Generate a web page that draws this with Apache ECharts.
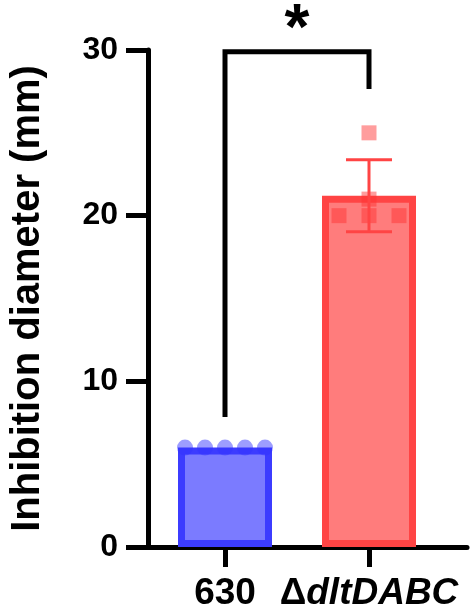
<!DOCTYPE html>
<html>
<head>
<meta charset="utf-8">
<script src="https://cdn.jsdelivr.net/npm/echarts@6/dist/echarts.min.js"></script>
<style>
  html, body { margin: 0; padding: 0; background: #fff; }
  #main { width: 472px; height: 616px; }
</style>
</head>
<body>
<div id="main"></div>
<script>
// data
var categories = ['630', 'ΔdltDABC'];
var means = [6, 21.2];
var sds = [0, 2.17];
var points630 = [6, 6, 6, 6, 6];
var pointsDlt = [25, 21, 20, 20, 20];
var yTicks = [0, 10, 20, 30];
var bracket = [8, 29.9, 27.8];   // left foot, top, right foot
var sigLabel = '*';

// jitter of the replicate dots (px), style only
var jitter630 = [-40, -20, 0, 20, 40];
var jitterDlt = [0, 0, -30, 0, 30];

var font = 'Liberation Sans, Arial, sans-serif';
var fills = ['#7b7bff', '#ff7c7c'];
var borders = ['#3c3cff', '#ff4444'];
var dots = ['rgba(50,50,255,0.6)', 'rgba(255,50,50,0.6)'];

var chart = echarts.init(document.getElementById('main'));

var option = {
  backgroundColor: '#fff',
  animation: false,
  grid: [
    {left: 153, right: 31, top: 50, bottom: 69},   // bars
    {left: 132, right: 5, top: 50, bottom: 69}     // visible axes
  ],
  xAxis: [
    {
      type: 'category', gridIndex: 0, data: categories,
      axisLine: {show: false},
      axisTick: {show: true, alignWithLabel: true, length: 20, lineStyle: {color: '#000', width: 5}},
      axisLabel: {
        margin: 28,
        formatter: function (v) {
          return v === '630' ? '{n|630}' : '{n|Δ}{i|dltDABC}';
        },
        rich: {
          n: {fontFamily: font, fontWeight: 'bold', fontSize: 37, color: '#000'},
          i: {fontFamily: font, fontWeight: 'bold', fontStyle: 'italic', fontSize: 37, color: '#000'}
        }
      }
    },
    {
      type: 'value', gridIndex: 1, min: 0, max: 1,
      axisLine: {show: true, onZero: false, lineStyle: {color: '#000', width: 5}},
      axisTick: {show: false}, axisLabel: {show: false}, splitLine: {show: false}
    }
  ],
  yAxis: [
    {
      type: 'value', gridIndex: 0, min: yTicks[0], max: yTicks[yTicks.length - 1], interval: 10,
      show: false
    },
    {
      type: 'value', gridIndex: 1, min: yTicks[0], max: yTicks[yTicks.length - 1], interval: 10,
      name: 'Inhibition diameter (mm)',
      nameLocation: 'middle', nameRotate: 90, nameGap: 100,
      nameTextStyle: {fontFamily: font, fontWeight: 'bold', fontSize: 40, color: '#000'},
      axisLine: {show: true, lineStyle: {color: '#000', width: 5}},
      axisTick: {show: true, length: 22, lineStyle: {color: '#000', width: 5}},
      axisLabel: {margin: 30, fontFamily: font, fontWeight: 'bold', fontSize: 32, color: '#000'},
      splitLine: {show: false}
    }
  ],
  series: [
    {
      type: 'bar', xAxisIndex: 0, yAxisIndex: 0,
      barWidth: 94,
      data: means.map(function (m, i) {
        return {value: m, itemStyle: {color: fills[i], borderColor: borders[i], borderWidth: 7}};
      }),
      z: 2
    },
    {
      type: 'scatter', xAxisIndex: 0, yAxisIndex: 0,
      symbol: 'circle', symbolSize: 16,
      data: points630.map(function (v, i) {
        return {value: [0, v], symbolOffset: [jitter630[i], 0]};
      }),
      itemStyle: {color: dots[0]},
      z: 3
    },
    {
      type: 'scatter', xAxisIndex: 0, yAxisIndex: 0,
      symbol: 'rect', symbolSize: 15,
      data: pointsDlt.map(function (v, i) {
        return {value: [1, v], symbolOffset: [jitterDlt[i], 0]};
      }),
      itemStyle: {color: dots[1]},
      z: 3
    },
    {
      // SD error bars
      type: 'custom', xAxisIndex: 0, yAxisIndex: 0,
      data: means.map(function (m, i) { return [i, m + sds[i], m - sds[i]]; }),
      renderItem: function (params, api) {
        var i = api.value(0);
        if (sds[i] === 0) return null;
        var hi = api.coord([i, api.value(1)]);
        var lo = api.coord([i, api.value(2)]);
        var w = 23;
        var st = {stroke: borders[i], lineWidth: 3};
        return {
          type: 'group',
          children: [
            {type: 'line', shape: {x1: hi[0], y1: hi[1], x2: lo[0], y2: lo[1]}, style: st},
            {type: 'line', shape: {x1: hi[0] - w, y1: hi[1], x2: hi[0] + w, y2: hi[1]}, style: st},
            {type: 'line', shape: {x1: lo[0] - w, y1: lo[1], x2: lo[0] + w, y2: lo[1]}, style: st}
          ]
        };
      },
      z: 4
    },
    {
      // significance bracket
      type: 'line', xAxisIndex: 0, yAxisIndex: 0,
      data: [[0, bracket[0]], [0, bracket[1]], [1, bracket[1]], [1, bracket[2]]],
      symbol: 'none',
      lineStyle: {color: '#000', width: 5, cap: 'square', join: 'miter'},
      z: 5
    },
    {
      type: 'custom', xAxisIndex: 0, yAxisIndex: 0,
      clip: false,
      data: [[0.5, bracket[1]]],
      renderItem: function (params, api) {
        var a = api.coord([0, api.value(1)]);
        var b = api.coord([1, api.value(1)]);
        return {
          type: 'text',
          style: {
            x: (a[0] + b[0]) / 2, y: a[1] - 20,
            text: sigLabel, textAlign: 'center', textVerticalAlign: 'middle',
            font: 'bold 64px ' + font, fill: '#000'
          }
        };
      },
      z: 5
    }
  ]
};

chart.setOption(option);
window.addEventListener('resize', function () {
  chart.resize();
});
</script>
</body>
</html>
